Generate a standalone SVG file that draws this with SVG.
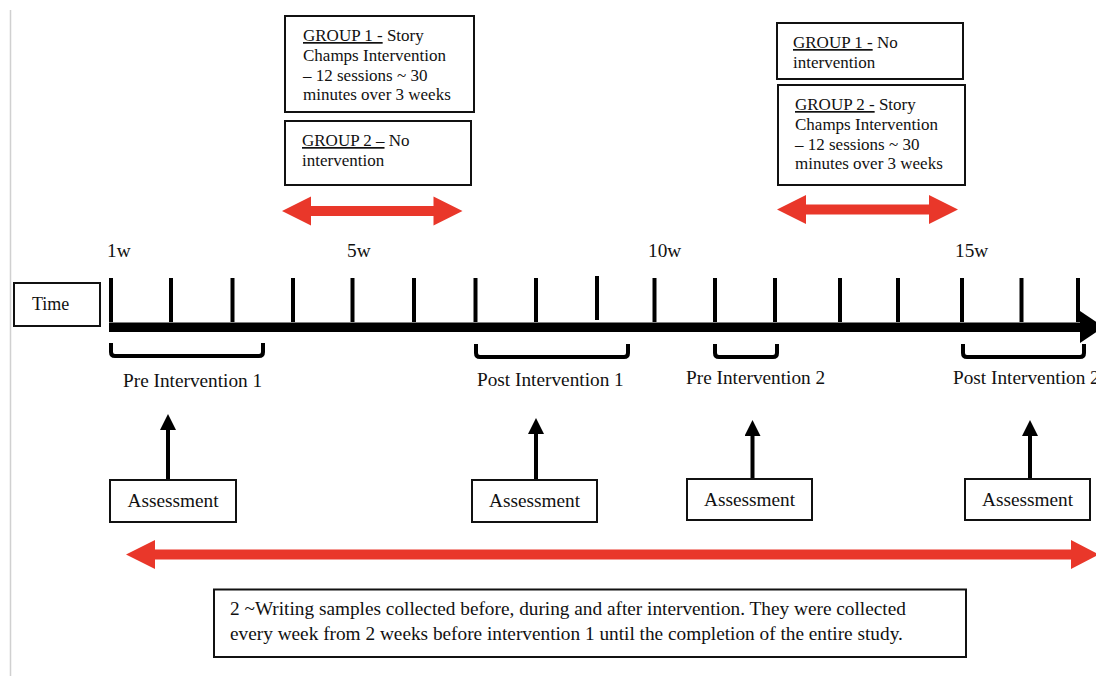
<svg xmlns="http://www.w3.org/2000/svg" width="1096" height="676" viewBox="0 0 1096 676">
<style>
text{font-family:"Liberation Serif","Times New Roman",serif;fill:#111}
.box{fill:#fff;stroke:#111;stroke-width:2}
.bt{font-size:17px}
.nt{font-size:19.3px}
.tl{font-size:19.3px}
.u{text-decoration:underline}
.red{fill:#e9372a}
.tick{stroke:#000;stroke-width:4}
.br{fill:none;stroke:#000;stroke-width:4;stroke-linejoin:round}
.up{stroke:#000;stroke-width:4}
</style>
<defs>
<marker id="ah" markerWidth="4" markerHeight="4" refX="2" refY="2" orient="auto" markerUnits="strokeWidth">
<path d="M0,0 L4,2 L0,4 Z" fill="#000"/>
</marker>
</defs>
<rect width="1096" height="676" fill="#fff"/>
<line x1="10.5" y1="10" x2="10.5" y2="676" stroke="#d0d0d0" stroke-width="1.5"/>

<g id="g1-story">
<rect class="box" x="285" y="16" width="189" height="96"/>
<text class="bt" x="303" y="41"><tspan class="u">GROUP 1 -</tspan> Story</text>
<text class="bt" x="303" y="61">Champs Intervention</text>
<text class="bt" x="303" y="81">– 12 sessions ~ 30</text>
<text class="bt" x="303" y="100">minutes over 3 weeks</text>
</g>
<g id="g2-none">
<rect class="box" x="285" y="121" width="186" height="64"/>
<text class="bt" x="302" y="146"><tspan class="u">GROUP 2 –</tspan> No</text>
<text class="bt" x="302" y="166">intervention</text>
</g>
<g id="g1-none">
<rect class="box" x="777" y="23" width="186" height="56"/>
<text class="bt" x="793" y="48"><tspan class="u">GROUP 1 -</tspan> No</text>
<text class="bt" x="793" y="68">intervention</text>
</g>
<g id="g2-story">
<rect class="box" x="778" y="85" width="187" height="100"/>
<text class="bt" x="795" y="110"><tspan class="u">GROUP 2 -</tspan> Story</text>
<text class="bt" x="795" y="130">Champs Intervention</text>
<text class="bt" x="795" y="150">– 12 sessions ~ 30</text>
<text class="bt" x="795" y="169">minutes over 3 weeks</text>
</g>

<g id="red-arrows">
<polygon class="red" points="282,211 311,196.5 311,206 433.5,206 433.5,196.5 462.5,211 433.5,225.5 433.5,216 311,216 311,225.5"/>
<polygon class="red" points="777,209.5 806,195 806,204.5 929,204.5 929,195 958,209.5 929,224 929,214.5 806,214.5 806,224"/>
<polygon class="red" points="126,554.5 155,540 155,549.5 1071,549.5 1071,540 1099,554.5 1071,569 1071,559.5 155,559.5 155,569"/>
</g>

<g id="time">
<rect class="box" x="14" y="283" width="86" height="43" stroke-width="1.5"/>
<text x="32" y="310" font-size="18">Time</text>
</g>

<g id="axis">
<rect x="109" y="322.5" width="975" height="9.5" fill="#000"/>
<polygon points="1080,311 1080,343 1104,327" fill="#000"/>
<line class="tick" x1="111" y1="278" x2="111" y2="322"/>
<line class="tick" x1="171" y1="278" x2="171" y2="322"/>
<line class="tick" x1="232.5" y1="278" x2="232.5" y2="322"/>
<line class="tick" x1="293" y1="278" x2="293" y2="322"/>
<line class="tick" x1="352.5" y1="278" x2="352.5" y2="322"/>
<line class="tick" x1="414" y1="278" x2="414" y2="322"/>
<line class="tick" x1="475.5" y1="278" x2="475.5" y2="322"/>
<line class="tick" x1="536" y1="278" x2="536" y2="322"/>
<line class="tick" x1="597" y1="276" x2="597" y2="320"/>
<line class="tick" x1="654.5" y1="278" x2="654.5" y2="322"/>
<line class="tick" x1="715" y1="278" x2="715" y2="322"/>
<line class="tick" x1="775" y1="278" x2="775" y2="322"/>
<line class="tick" x1="840" y1="278" x2="840" y2="322"/>
<line class="tick" x1="898" y1="278" x2="898" y2="322"/>
<line class="tick" x1="962" y1="278" x2="962" y2="322"/>
<line class="tick" x1="1021.5" y1="278" x2="1021.5" y2="322"/>
<line class="tick" x1="1078" y1="278" x2="1078" y2="322"/>
<text class="tl" x="107" y="257">1w</text>
<text class="tl" x="347" y="257">5w</text>
<text class="tl" x="648" y="257">10w</text>
<text class="tl" x="955" y="257">15w</text>
</g>

<g id="brackets">
<path class="br" d="M111,343 V352 Q111,356 115,356 H259 Q263,356 263,352 V343"/>
<path class="br" d="M476,344 V353 Q476,357 480,357 H624 Q628,357 628,353 V344"/>
<path class="br" d="M715,344 V353 Q715,357 719,357 H773 Q777,357 777,353 V344"/>
<path class="br" d="M963,344 V353 Q963,357 967,357 H1080 Q1084,357 1084,353 V344"/>
<text class="tl" x="123" y="387">Pre Intervention 1</text>
<text class="tl" x="477" y="386">Post Intervention 1</text>
<text class="tl" x="686" y="384">Pre Intervention 2</text>
<text class="tl" x="953" y="384">Post Intervention 2</text>
</g>

<g id="connectors">
<line class="up" x1="168" y1="479" x2="168" y2="422" marker-end="url(#ah)"/>
<line class="up" x1="536" y1="480" x2="536" y2="426" marker-end="url(#ah)"/>
<line class="up" x1="752.5" y1="478" x2="752.5" y2="428" marker-end="url(#ah)"/>
<line class="up" x1="1030" y1="478" x2="1030" y2="428" marker-end="url(#ah)"/>
</g>

<g id="assess1"><rect class="box" x="110" y="480" width="126" height="42"/><text class="tl" x="173" y="507" text-anchor="middle">Assessment</text></g>
<g id="assess2"><rect class="box" x="472" y="480" width="125" height="42"/><text class="tl" x="534.5" y="507" text-anchor="middle">Assessment</text></g>
<g id="assess3"><rect class="box" x="687" y="479" width="125" height="41"/><text class="tl" x="749.5" y="505.5" text-anchor="middle">Assessment</text></g>
<g id="assess4"><rect class="box" x="965" y="479" width="125" height="41"/><text class="tl" x="1027.5" y="505.5" text-anchor="middle">Assessment</text></g>

<g id="note">
<rect class="box" x="214" y="589.5" width="752" height="67.5"/>
<text class="nt" x="230" y="615">2 ~Writing samples collected before, during and after intervention. They were collected</text>
<text class="nt" x="230" y="640">every week from 2 weeks before intervention 1 until the completion of the entire study.</text>
</g>
</svg>
